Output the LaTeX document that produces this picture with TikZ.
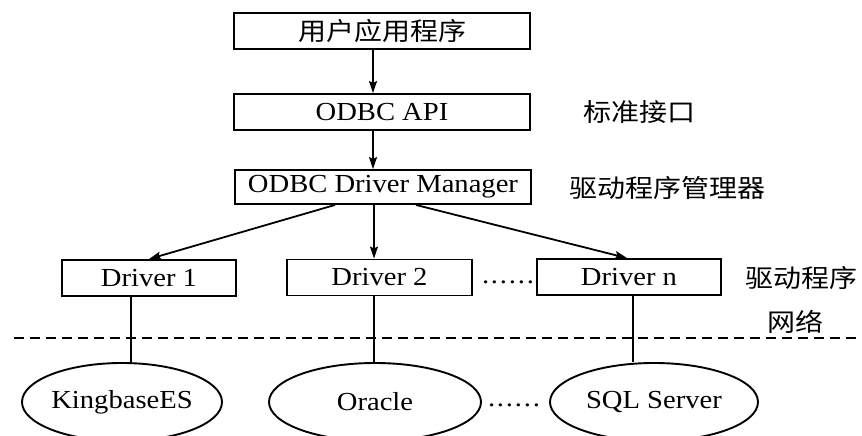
\documentclass[tikz,border=0pt]{standalone}
\usepackage{fontspec}
\setmainfont{Liberation Serif}[FakeStretch=1.1]
\newfontfamily\cjk{Noto Sans CJK SC}[FakeStretch=1.12]
\usetikzlibrary{shapes.geometric,arrows.meta}
\begin{document}
\begin{tikzpicture}[x=1pt,y=-1pt,
  lat/.style={font=\fontsize{26}{30}\selectfont},
  han/.style={font=\cjk\fontsize{25}{30}\selectfont},
  box/.style={draw,line width=1.9pt,minimum width=#1,minimum height=36pt,inner sep=0pt},
  db/.style={draw,ellipse,line width=1.9pt,minimum width=#1,minimum height=78pt,inner sep=0pt,lat},
  arr/.style={line width=1.8pt,-{Stealth[length=12pt,width=8pt,inset=2pt]}},
  link/.style={line width=1.8pt},
  net/.style={line width=1.6pt,dash pattern=on 10pt off 6pt},
  dotrow/.style={lat,anchor=base,inner sep=0pt}]
\useasboundingbox (0,0) rectangle (862,436);
% boxes
\node[box=296pt,han] (app) at (382,31) {用户应用程序};
\node[box=296pt,lat] (api) at (382,112) {ODBC API};
\node[box=296pt,lat,minimum height=34pt] (mgr) at (383,187) {ODBC Driver Manager};
\node[box=174pt,lat] (d1) at (149,278) {Driver 1};
\node[box=185pt,lat] (d2) at (379.5,277.5) {Driver 2};
\node[box=184pt,lat] (dn) at (629,277) {Driver n};
% databases
\node[db=200pt] (k) at (122,402) {KingbaseES};
\node[db=212pt] (o) at (375,402) {Oracle};
\node[db=208pt] (s) at (654,402) {SQL Server};
% side labels
\node[han,anchor=west,inner sep=0pt] (l1) at (583,112) {标准接口};
\node[han,anchor=west,inner sep=0pt] (l2) at (569,188) {驱动程序管理器};
\node[han,anchor=west,inner sep=0pt] (l3) at (745,278) {驱动程序};
\node[han,anchor=west,inner sep=0pt] (l4) at (767,322) {网络};
% dots
\node[dotrow] (dots1) at (508,283) {\makebox[52pt][s]{.\hfil.\hfil.\hfil.\hfil.\hfil.}};
\node[dotrow] (dots2) at (514,406) {\makebox[52pt][s]{.\hfil.\hfil.\hfil.\hfil.\hfil.}};
% arrows
\draw[arr] ([xshift=-9pt]app.south) -- ([xshift=-9pt]api.north);
\draw[arr] ([xshift=-9pt]api.south) -- ([xshift=-10pt]mgr.north);
\draw[arr] ([xshift=-48pt]mgr.south) -- (d1.north);
\draw[arr] ([xshift=-9pt]mgr.south) -- ([xshift=-5.5pt]d2.north);
\draw[arr] ([xshift=33pt]mgr.south) -- ([xshift=-2pt]dn.north);
% links to databases
\draw[link] ([xshift=-18pt]d1.south) coordinate (a1) -- (a1 |- k.north);
\draw[link] ([xshift=-5.5pt]d2.south) coordinate (a2) -- (a2 |- o.north);
\draw[link] ([xshift=4pt]dn.south) coordinate (a3) -- (a3 |- s.north);
% network line
\coordinate (nl) at (14,338);
\coordinate (nr) at (862,338);
\draw[net] (nl) -- (nr);
\end{tikzpicture}
\end{document}
